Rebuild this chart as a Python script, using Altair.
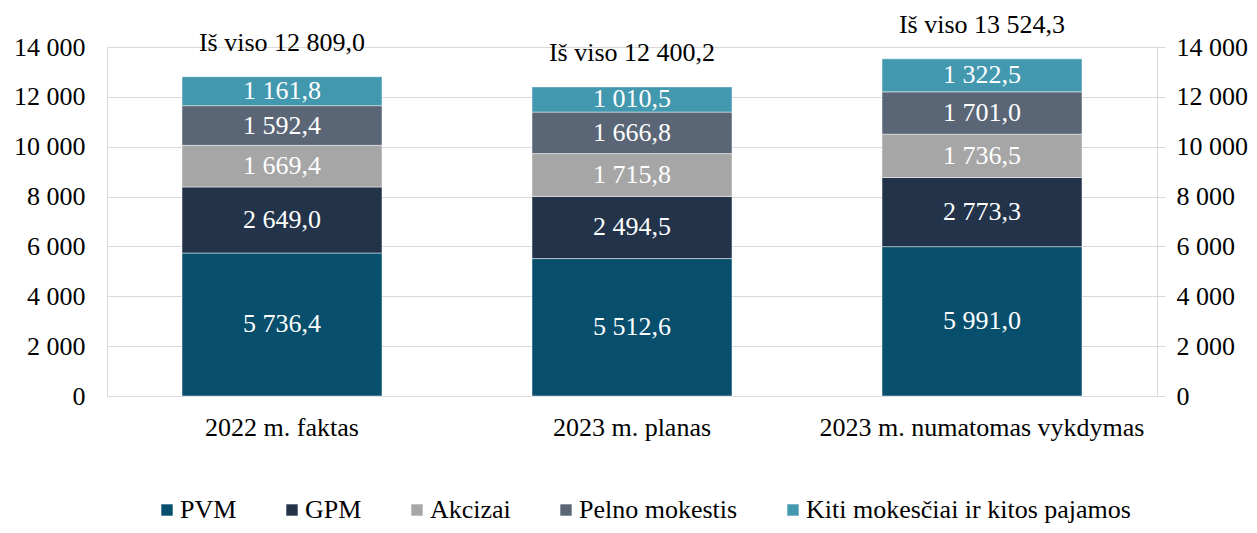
import altair as alt
import pandas as pd

categories = ["2022 m. faktas", "2023 m. planas", "2023 m. numatomas vykdymas"]
series = ["PVM", "GPM", "Akcizai", "Pelno mokestis", "Kiti mokesčiai ir kitos pajamos"]
colors = ["#084F6D", "#22334A", "#A6A6A7", "#5A6676", "#4298AE"]
pvm = [5736.4, 5512.6, 5991.0]
gpm = [2649.0, 2494.5, 2773.3]
akcizai = [1669.4, 1715.8, 1736.5]
pelno = [1592.4, 1666.8, 1701.0]
kiti = [1161.8, 1010.5, 1322.5]
totals = [12809.0, 12400.2, 13524.3]


def fmt(v):
    return f"{v:,.1f}".replace(",", " ").replace(".", ",")


rows = []
for si, (name, vals) in enumerate(zip(series, [pvm, gpm, akcizai, pelno, kiti])):
    for ci, cat in enumerate(categories):
        rows.append({"cat": cat, "series": name, "order": si, "value": vals[ci], "label": fmt(vals[ci])})
df = pd.DataFrame(rows)
tot_df = pd.DataFrame({"cat": categories, "total": totals,
                       "label": ["Iš viso " + fmt(t) for t in totals]})

FONT = "Liberation Serif"
FS = 26
ymax = 14000
label_expr = "replace(format(datum.value, ','), ',', ' ')"

x = alt.X("cat:N", sort=categories, title=None,
          scale=alt.Scale(paddingInner=0, paddingOuter=0),
          axis=alt.Axis(labelAngle=0, ticks=False, domain=True, domainColor="#d9d9d9",
                        labelFont=FONT, labelFontSize=FS, labelColor="#000000",
                        labelPadding=18, labelBaseline="top", labelLimit=0))

base = alt.Chart(df)

bars = base.mark_bar(size=200, stroke="white", strokeWidth=0.8, strokeOpacity=0.6).encode(
    x=x,
    y=alt.Y("sum(value):Q", stack="zero", title=None,
            scale=alt.Scale(domain=[0, ymax], nice=False),
            axis=alt.Axis(orient="left", values=list(range(0, 14001, 2000)), labelExpr=label_expr,
                          grid=True, gridColor="#d9d9d9", ticks=False, domain=True,
                          domainColor="#d9d9d9", labelFont=FONT, labelFontSize=FS,
                          labelColor="#000000", labelPadding=22)),
    color=alt.Color("series:N", sort=series,
                    scale=alt.Scale(domain=series, range=colors),
                    legend=alt.Legend(orient="none", legendX=47, legendY=450, direction="horizontal",
                                      title=None, symbolType="square", symbolSize=130,
                                      symbolStrokeWidth=0, labelFont=FONT, labelFontSize=FS,
                                      labelColor="#000000", columnPadding=42, labelOffset=0,
                                      padding=0, labelLimit=0)),
    order=alt.Order("order:Q", sort="ascending"),
)

seg_text = base.mark_text(font=FONT, fontSize=FS, color="white", baseline="middle").encode(
    x=alt.X("cat:N", sort=categories),
    y=alt.Y("sum(value):Q", stack="zero", bandPosition=0.5),
    text="label:N",
    order=alt.Order("order:Q", sort="ascending"),
    detail="series:N",
)

tot_text = alt.Chart(tot_df).mark_text(font=FONT, fontSize=FS, color="black", baseline="middle",
                                       dy=-34).encode(
    x=alt.X("cat:N", sort=categories),
    y=alt.Y("total:Q"),
    text="label:N",
)

right_axis = alt.Chart(tot_df).mark_point(opacity=0).encode(
    x=alt.X("cat:N", sort=categories),
    y=alt.Y("total:Q", title=None, scale=alt.Scale(domain=[0, ymax], nice=False),
            axis=alt.Axis(orient="right", values=list(range(0, 14001, 2000)), labelExpr=label_expr,
                          grid=False, ticks=True, tickSize=8, tickColor="#d9d9d9", domain=True,
                          domainColor="#d9d9d9", labelFont=FONT, labelFontSize=FS,
                          labelColor="#000000", labelPadding=11)),
)

left = alt.layer(bars, seg_text, tot_text)
chart = alt.layer(left, right_axis).resolve_axis(y="independent").properties(
    width=1050, height=349,
    autosize=alt.AutoSizeParams(type="none"),
    padding={"left": 99, "top": 39, "right": 92, "bottom": 129},
).configure_view(stroke=None).configure_axis(labelFont=FONT)

chart.save("out.html", embed_options={"renderer": "svg", "actions": False})
